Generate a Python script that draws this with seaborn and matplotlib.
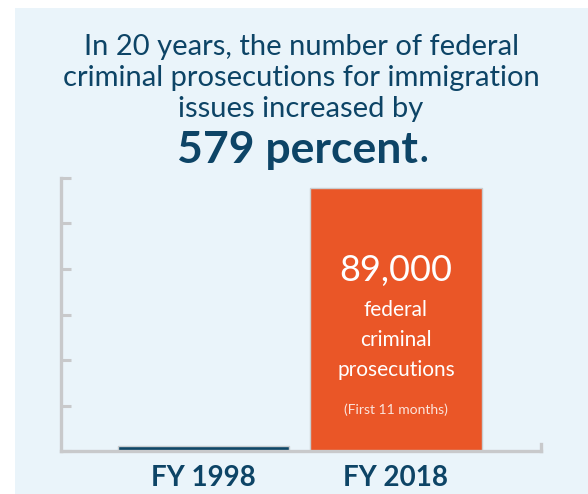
import matplotlib.pyplot as plt
import matplotlib.patches as mpatches
import pandas as pd
import seaborn as sns

# values (bars are drawn on a 0-90,000 scale)
years = ["FY 1998", "FY 2018"]
prosecutions = [1600, 86700]
tick_values = [0, 15000, 30000, 45000, 60000, 75000, 90000]
bar_colors = ["#0f4767", "#ea5627"]

title_lines = "In 20 years, the number of federal\ncriminal prosecutions for immigration\nissues increased by"
headline = "579 percent"
bar_label = "89,000"
bar_sub = "federal\ncriminal\nprosecutions"
bar_note = "(First 11 months)"

sns.set_theme(style="white")
plt.rcParams["font.family"] = ["Lato", "DejaVu Sans"]

df = pd.DataFrame({"year": years, "count": prosecutions})

navy = "#0d4466"
grey = "#c8c9cb"
panel = "#eaf4fa"

fig = plt.figure(figsize=(5.88, 4.94), dpi=100, facecolor="white")
fig.patches.append(mpatches.Rectangle((15 / 588, 0), 1, 486 / 494, transform=fig.transFigure,
                                      facecolor=panel, edgecolor="none", zorder=-10))

ax = fig.add_axes([61 / 588, 43 / 494, 480 / 588, 273 / 494])
ax.set_facecolor("none")

sns.barplot(data=df, x="year", y="count", hue="year", palette=bar_colors,
            width=0.89, saturation=1, edgecolor="#c9cdd0", linewidth=1.0,
            legend=False, ax=ax)

ax.set_xlim(-0.74, 1.754)
ax.set_ylim(0, 90000)
ax.set_yticks(tick_values)
ax.set_yticklabels([])
ax.set_xlabel("")
ax.set_ylabel("")

for side in ["left", "bottom", "right"]:
    ax.spines[side].set_color(grey)
    ax.spines[side].set_linewidth(2.4)
ax.spines["top"].set_visible(False)
ax.spines["right"].set_bounds(0, 2200)

ax.tick_params(axis="y", direction="in", length=7, width=2.2, color=grey, left=True)
ax.tick_params(axis="x", length=0, pad=10, labelsize=20, labelcolor=navy)
for lab in ax.get_xticklabels():
    lab.set_fontweight("bold")

# header text
fig.text(301 / 588, 1 - 78 / 494, title_lines, ha="center", va="center", color=navy,
         fontsize=21, fontweight="normal", linespacing=1.26)
t = fig.text(297 / 588, 1 - 150 / 494, headline, ha="center", va="center", color=navy,
             fontsize=32, fontweight="bold")
ax.annotate(".", xy=(1, 0), xycoords=t, xytext=(1, 0), textcoords="offset points",
            ha="left", va="bottom", color=navy, fontsize=32, fontweight="normal")

# text inside the FY 2018 bar
ax.text(1, 0.663 * 90000, bar_label, ha="center", va="center", color="white",
        fontsize=26, fontweight="normal")
ax.text(1, 0.4066 * 90000, bar_sub, ha="center", va="center", color="white",
        fontsize=15, fontweight="normal", linespacing=1.6)
ax.text(1, 0.15 * 90000, bar_note, ha="center", va="center", color="#fbe4dc",
        fontsize=10)

fig.savefig("out.png", dpi=100, facecolor="white")
